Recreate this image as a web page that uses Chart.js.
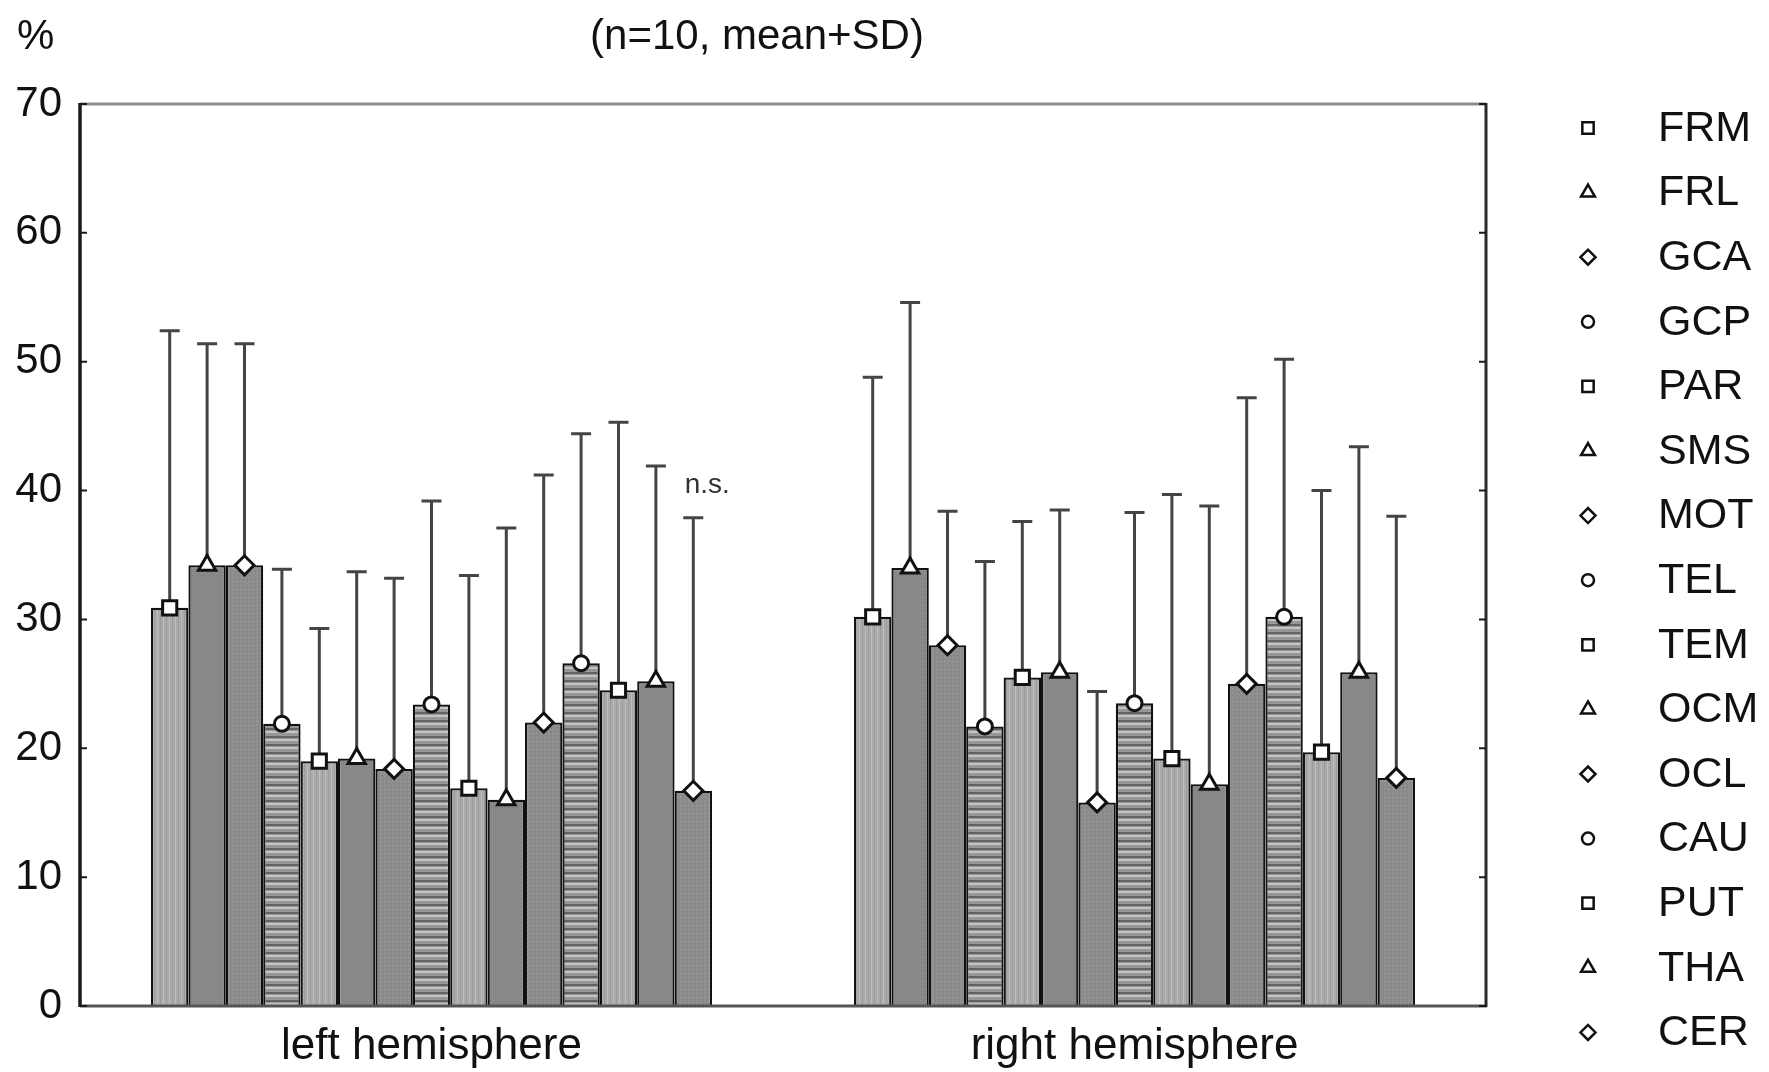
<!DOCTYPE html>
<html>
<head>
<meta charset="utf-8">
<title>hemispheres</title>
<script src="https://cdn.jsdelivr.net/npm/chart.js"></script>
<style>
  body { margin: 0; background: #fff; }
  #cadre { width: 1769px; height: 1072px; }
</style>
</head>
<body>
<div id="cadre"><canvas id="myChart" width="1769" height="1072"></canvas></div>
<script>
/*****************************Donnees*********************************/
const regions = ['FRM','FRL','GCA','GCP','PAR','SMS','MOT','TEL','TEM','OCM','OCL','CAU','PUT','THA','CER'];
const hemispheres = ['left hemisphere', 'right hemisphere'];

// moyennes et ecarts-types (%)
const moyenneGauche = [30.9, 34.2, 34.2, 21.9, 19.0, 19.2, 18.4, 23.4, 16.9, 16.0, 22.0, 26.6, 24.5, 25.2, 16.7];
const ecartGauche   = [21.5, 17.2, 17.2, 12.0, 10.3, 14.5, 14.8, 15.8, 16.5, 21.1, 19.2, 17.8, 20.8, 16.7, 21.2];
const moyenneDroite = [30.2, 34.0, 28.0, 21.7, 25.5, 25.9, 15.8, 23.5, 19.2, 17.2, 25.0, 30.2, 19.7, 25.9, 17.7];
const ecartDroite   = [18.6, 20.6, 10.4, 12.8, 12.1, 12.6,  8.6, 14.8, 20.5, 21.6, 22.2, 20.0, 20.3, 17.5, 20.3];

const graduationsY = [0, 10, 20, 30, 40, 50, 60, 70];
const titre = '(n=10, mean+SD)';
const uniteY = '%';
const remarque = 'n.s.';   // au dessus de CER, hemisphere gauche

const police = '"Liberation Sans", Arial, Helvetica, sans-serif';
Chart.defaults.font.family = police;

/*************************Motifs des barres*************************************/
function creerMotif(l, h, dessin) {
  let c = document.createElement('canvas');
  c.width = l; c.height = h;
  let g = c.getContext('2d');
  dessin(g);
  return g.createPattern(c, 'repeat');
}

// carre : gris clair strie verticalement
const motifClair = creerMotif(6, 4, g => {
  g.fillStyle = '#aaaaaa'; g.fillRect(0, 0, 6, 4);
  g.fillStyle = '#bdbdbd'; g.fillRect(1, 0, 1, 4);
  g.fillStyle = '#9c9c9c'; g.fillRect(4, 0, 1, 4);
  g.fillStyle = '#b4b4b4'; g.fillRect(3, 1, 1, 1);
});
// triangle : gris moyen pointille
const motifMoyen = creerMotif(4, 4, g => {
  g.fillStyle = '#888888'; g.fillRect(0, 0, 4, 4);
  g.fillStyle = '#949494'; g.fillRect(0, 0, 1, 1); g.fillRect(2, 2, 1, 1);
  g.fillStyle = '#7c7c7c'; g.fillRect(1, 3, 1, 1); g.fillRect(3, 1, 1, 1);
});
// losange : gris moyen, grain diagonal
const motifMoyen2 = creerMotif(4, 4, g => {
  g.fillStyle = '#8d8d8d'; g.fillRect(0, 0, 4, 4);
  g.fillStyle = '#999999'; g.fillRect(0, 0, 1, 1); g.fillRect(1, 1, 1, 1);
  g.fillStyle = '#818181'; g.fillRect(2, 3, 1, 1); g.fillRect(3, 0, 1, 1);
});
// cercle : rayures horizontales
const motifRaye = creerMotif(4, 8, g => {
  g.fillStyle = '#979797'; g.fillRect(0, 0, 4, 8);
  g.fillStyle = '#626262'; g.fillRect(0, 0, 4, 2);
  g.fillStyle = '#c4c4c4'; g.fillRect(0, 3, 4, 2);
});

const formes = ['rect', 'triangle', 'rectRot', 'circle'];
const motifs = [motifClair, motifMoyen, motifMoyen2, motifRaye];
const rayonBarre = { rect: 10, triangle: 10, rectRot: 9.5, circle: 7.5 };
const rayonLegende = { rect: 8, triangle: 8, rectRot: 7.5, circle: 6 };

/*************************Plugins de dessin************************************/
function marqueur(c, forme, rayon, x, y, epaisseur) {
  c.save();
  c.fillStyle = '#ffffff';
  c.strokeStyle = '#111111';
  c.lineWidth = epaisseur;
  c.lineJoin = 'miter';
  Chart.helpers.drawPoint(c, { pointStyle: forme, radius: rayon, rotation: 0, borderWidth: epaisseur }, x, y);
  c.restore();
}

const surcouche = {
  id: 'surcouche',
  afterDatasetsDraw(chart) {
    const c = chart.ctx;
    const y = chart.scales.y;
    const zone = chart.chartArea;

    // barres d'erreur (moyenne + SD)
    chart.data.datasets.forEach((ds, i) => {
      chart.getDatasetMeta(i).data.forEach((barre, j) => {
        let haut = y.getPixelForValue(ds.data[j] + ds.sd[j]);
        c.save();
        c.strokeStyle = '#444444';
        c.lineWidth = 3;
        c.beginPath();
        c.moveTo(barre.x, barre.y);
        c.lineTo(barre.x, haut);
        c.moveTo(barre.x - 10, haut);
        c.lineTo(barre.x + 10, haut);
        c.stroke();
        c.restore();
      });
    });

    // cadre du graphique
    c.save();
    c.lineWidth = 3;
    c.strokeStyle = '#8c8c8c';
    c.beginPath(); c.moveTo(zone.left, zone.top); c.lineTo(zone.right, zone.top); c.stroke();
    c.strokeStyle = '#555555';
    c.beginPath(); c.moveTo(zone.left, zone.bottom); c.lineTo(zone.right + 1, zone.bottom); c.stroke();
    c.strokeStyle = '#2a2a2a';
    c.beginPath(); c.moveTo(zone.right, zone.top - 1); c.lineTo(zone.right, zone.bottom + 1); c.stroke();
    c.lineWidth = 3.5;
    c.strokeStyle = '#1a1a1a';
    c.beginPath(); c.moveTo(zone.left, zone.top - 1); c.lineTo(zone.left, zone.bottom + 1); c.stroke();
    // petites graduations vers l'interieur
    c.lineWidth = 2;
    y.ticks.forEach(t => {
      let py = y.getPixelForValue(t.value);
      c.beginPath();
      c.moveTo(zone.left, py); c.lineTo(zone.left + 7, py);
      c.moveTo(zone.right, py); c.lineTo(zone.right - 7, py);
      c.stroke();
    });
    c.restore();

    // marqueurs au sommet des barres
    chart.data.datasets.forEach((ds, i) => {
      chart.getDatasetMeta(i).data.forEach(barre => {
        marqueur(c, ds.pointStyle, rayonBarre[ds.pointStyle], barre.x, barre.y, 3);
      });
    });
  },
  afterDraw(chart) {
    const c = chart.ctx;
    const y = chart.scales.y;
    c.save();
    c.fillStyle = '#111111';
    c.textBaseline = 'middle';
    c.font = '42px ' + police;
    c.textAlign = 'left';
    c.fillText(uniteY, 17, 37);
    c.textAlign = 'center';
    c.fillText(titre, 757, 37);

    // n.s. au dessus de la derniere barre gauche
    let der = regions.length - 1;
    let barre = chart.getDatasetMeta(der).data[0];
    let ds = chart.data.datasets[der];
    c.font = '28px ' + police;
    c.fillStyle = '#333333';
    c.fillText(remarque, barre.x + 14, y.getPixelForValue(ds.data[0] + ds.sd[0]) - 32);

    // legende
    c.font = '43px ' + police;
    c.fillStyle = '#111111';
    c.textAlign = 'left';
    regions.forEach((nom, i) => {
      let py = 128 + i * 64.6;
      let forme = formes[i % 4];
      marqueur(c, forme, rayonLegende[forme], 1588, py, 2.5);
      c.fillText(nom, 1658, py + 1);
    });
    c.restore();
  }
};

/*********************chart************************** */
const ctx = document.getElementById('myChart');
const myChart = new Chart(ctx, {
  type: 'bar',
  data: {
    labels: hemispheres,
    datasets: regions.map((nom, i) => ({
      label: nom,
      data: [moyenneGauche[i], moyenneDroite[i]],
      sd: [ecartGauche[i], ecartDroite[i]],
      backgroundColor: motifs[i % 4],
      borderColor: '#111111',
      borderWidth: 2.25,
      pointStyle: formes[i % 4],
      categoryPercentage: 0.798,
      barPercentage: 1
    }))
  },
  options: {
    responsive: false,
    animation: false,
    devicePixelRatio: 1,
    layout: { padding: { left: 0, right: 283, top: 104, bottom: 0 } },
    plugins: {
      legend: { display: false },
      title: { display: false },
      tooltip: { enabled: false }
    },
    scales: {
      x: {
        offset: true,
        grid: { display: false, drawTicks: false },
        border: { display: false },
        ticks: { color: '#111', font: { size: 44 }, padding: 14, maxRotation: 0 },
        afterFit: s => { s.height = 66; }
      },
      y: {
        min: 0,
        max: 70,
        afterBuildTicks: s => { s.ticks = graduationsY.map(v => ({ value: v })); },
        grid: { display: false, drawTicks: false },
        border: { display: false },
        ticks: { color: '#111', font: { size: 42 }, padding: 18 },
        afterFit: s => { s.width = 80; }
      }
    }
  },
  plugins: [surcouche]
});
</script>
</body>
</html>
